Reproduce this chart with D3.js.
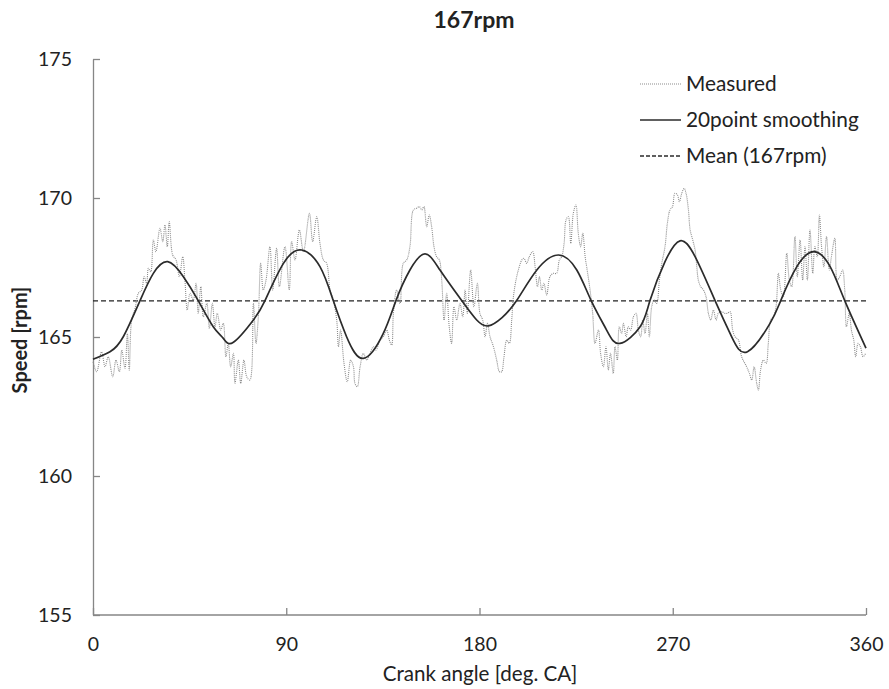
<!DOCTYPE html>
<html>
<head>
<meta charset="utf-8">
<script src="https://cdn.jsdelivr.net/npm/d3@7"></script>
<style>
  body { margin: 0; background: #fff; }
  text { font-family: Lato, "Open Sans", sans-serif; fill: #222; }
</style>
</head>
<body>
<div id="chart"></div>
<script>
// measured speed (peaks / troughs)
var measAngle = [0, 1.7, 4.0, 5.6, 7.1, 9.2, 10.7, 12.3, 13.4, 14.9, 16.0, 16.9, 18.0, 19.6, 21.1, 22.7, 23.8, 25.0, 25.8, 26.9,
  28.1, 29.3, 31.2, 32.5, 33.5, 34.6, 35.5, 37.1, 38.7, 40.2, 41.8, 42.8, 43.9, 45.2, 46.7, 48.0, 49.0, 50.2, 51.4, 53.0,
  54.2, 55.6, 56.8, 57.9, 59.5, 60.7, 61.9, 63.0, 64.1, 65.4, 66.1, 67.7, 68.8, 70.3, 71.6, 73.1, 74.7, 75.9, 77.0, 78.1,
  79.3, 80.6, 82.4, 83.7, 85.5, 86.8, 89.4, 91.4, 92.5, 94.1, 96.1, 98.0, 100.8, 102.3, 104.2, 105.7, 107.3, 108.8, 110.4, 111.9,
  113.5, 114.3, 115.3, 116.9, 118.4, 120.0, 121.3, 122.0, 123.1, 124.4, 125.9, 127.5, 129.0, 130.6, 131.8, 133.7, 135.2, 136.8, 138.0, 139.1,
  139.9, 141.4, 143.0, 144.5, 146.1, 147.6, 149.2, 150.7, 152.0, 153.1, 154.1, 155.4, 156.6, 157.7, 158.8, 160.0, 161.3, 162.4, 163.5, 164.7,
  165.9, 167.0, 168.1, 169.4, 170.9, 172.2, 173.3, 174.3, 175.9, 177.4, 179.0, 180.2, 181.5, 182.6, 183.7, 184.9, 186.5, 188.0, 189.3, 190.3,
  191.4, 192.7, 193.9, 195.0, 195.8, 197.0, 198.1, 199.7, 200.7, 202.0, 203.2, 204.8, 205.9, 207.0, 207.9, 209.0, 210.0, 211.3, 212.8, 214.4,
  215.9, 217.2, 218.3, 219.4, 220.3, 221.4, 222.5, 223.7, 224.9, 226.0, 227.1, 228.1, 229.2, 229.9, 231.5, 232.7, 233.8, 235.4, 236.4, 237.7,
  238.9, 240.0, 241.0, 242.3, 243.1, 244.2, 245.1, 246.2, 247.0, 248.3, 249.3, 250.4, 251.7, 252.9, 254.0, 255.1, 256.0, 257.1, 258.2, 259.1,
  260.2, 261.3, 262.5, 263.8, 264.9, 266.4, 267.5, 268.7, 269.9, 271.0, 272.2, 273.1, 274.2, 275.3, 276.2, 277.3, 278.1, 279.3, 280.4, 281.2,
  281.9, 283.0, 284.3, 285.5, 286.6, 287.7, 288.9, 290.2, 291.2, 292.8, 294.3, 295.4, 296.7, 297.9, 299.0, 300.6, 302.1, 304.4, 305.7, 306.8,
  307.9, 309.1, 309.9, 310.9, 312.2, 313.5, 314.5, 315.6, 316.9, 318.1, 319.2, 320.3, 321.5, 323.1, 324.3, 325.4, 326.9, 328.0, 329.3, 330.5,
  331.6, 332.7, 333.9, 335.2, 336.2, 337.3, 338.3, 339.3, 340.4, 341.6, 342.9, 343.9, 345.5, 346.6, 347.8, 349.1, 350.1, 350.9, 352.2, 353.2,
  354.3, 355.2, 356.3, 357.4, 358.6, 359.8];
var measSpeed = [164.11, 163.75, 164.47, 163.93, 164.29, 163.57, 164.17, 163.75, 164.53, 163.87, 165.13, 163.81, 165.61, 166.03, 166.57, 166.69, 167.17, 166.93, 167.47, 167.35,
  168.49, 168.07, 168.91, 168.43, 169.03, 168.25, 169.15, 167.95, 167.77, 167.17, 167.89, 167.05, 165.97, 166.57, 166.33, 166.93, 165.85, 166.81, 165.73, 166.21,
  165.31, 166.21, 165.37, 165.85, 165.25, 165.49, 164.29, 164.77, 163.93, 164.41, 163.33, 164.17, 163.33, 164.17, 163.57, 163.45, 166.21, 164.77, 165.73, 167.65,
  166.69, 167.05, 168.25, 166.69, 168.19, 166.81, 168.25, 166.69, 168.43, 167.77, 168.85, 168.07, 169.45, 168.43, 169.33, 168.37, 167.77, 167.65, 166.69, 166.33,
  165.61, 164.65, 165.25, 164.05, 163.39, 164.17, 163.93, 163.33, 163.21, 163.93, 164.41, 164.17, 164.41, 164.65, 164.53, 164.89, 165.01, 165.25, 164.89, 164.71,
  165.85, 166.69, 166.21, 167.65, 167.77, 168.25, 169.57, 169.63, 169.69, 169.57, 169.69, 168.97, 169.39, 168.97, 168.25, 167.89, 167.77, 167.05, 165.61, 166.57,
  165.37, 164.77, 166.09, 165.61, 166.21, 165.73, 166.69, 165.85, 167.41, 166.09, 166.93, 165.85, 165.61, 165.01, 165.49, 165.01, 164.65, 164.17, 163.75, 163.75,
  164.29, 164.89, 164.77, 165.61, 166.45, 167.05, 167.41, 167.77, 167.83, 167.65, 167.89, 168.07, 167.53, 166.81, 167.17, 166.69, 166.93, 166.51, 167.17, 167.29,
  167.29, 167.77, 167.89, 168.37, 169.21, 169.33, 168.37, 169.45, 169.75, 168.73, 168.25, 168.73, 167.89, 167.53, 166.69, 165.85, 164.77, 165.25, 164.41, 163.93,
  164.65, 163.81, 164.41, 163.69, 164.65, 164.17, 165.37, 165.13, 165.49, 165.01, 165.37, 165.25, 165.73, 165.85, 165.25, 165.01, 165.61, 165.13, 165.85, 165.01,
  166.09, 166.33, 166.21, 167.05, 167.65, 168.25, 169.09, 169.57, 169.69, 170.17, 170.11, 169.87, 170.17, 170.35, 170.17, 169.57, 168.85, 168.49, 168.13, 167.53,
  167.05, 166.81, 166.69, 166.45, 165.85, 165.61, 165.97, 165.61, 165.85, 165.91, 165.85, 165.85, 165.91, 165.25, 165.01, 164.89, 164.29, 163.93, 163.69, 163.45,
  163.93, 163.33, 163.09, 163.81, 164.17, 164.05, 164.77, 165.61, 165.73, 166.09, 167.29, 166.69, 166.45, 168.01, 167.05, 166.81, 168.61, 167.17, 168.49, 167.05,
  168.25, 167.05, 168.85, 167.29, 168.25, 167.89, 169.39, 168.25, 167.53, 168.61, 167.41, 167.89, 168.55, 167.05, 167.17, 167.41, 166.69, 165.37, 165.85, 165.25,
  164.89, 164.29, 164.77, 164.65, 164.29, 164.41];

// 20 point smoothing
var smoothAngle = [0, 7.9, 14.1, 21.9, 28.1, 34.8, 42.1, 49.0, 56.0, 60.7, 65.4, 74.7, 80.1, 88.7, 97.2, 105.7, 111.9, 118.1,
  125.9, 135.2, 141.1, 147.6, 154.6, 161.6, 171.7, 178.7, 184.1, 190.5, 197.3, 206.7, 216.8, 225.3, 232.0, 239.2,
  245.4, 254.8, 259.4, 266.4, 273.4, 280.4, 289.7, 297.4, 304.8, 315.3, 320.3, 327.8, 335.9, 343.3, 350.1, 360];
var smoothSpeed = [164.2, 164.47, 165.01, 166.31, 167.29, 167.71, 167.17, 166.31, 165.37, 164.95, 164.81, 165.61, 166.31, 167.65, 168.13, 167.53, 166.31, 165.01,
  164.23, 165.13, 166.31, 167.41, 167.99, 167.41, 166.31, 165.61, 165.4, 165.7, 166.31, 167.41, 167.95, 167.41, 166.31, 165.25,
  164.77, 165.37, 166.31, 167.71, 168.46, 167.89, 166.31, 165.01, 164.47, 165.49, 166.31, 167.53, 168.07, 167.53, 166.31, 164.6];

var meanSpeed = 166.3;
var xTicks = [0, 90, 180, 270, 360];
var yTicks = [155, 160, 165, 170, 175];
var legendNames = ["Measured", "20point smoothing", "Mean (167rpm)"];

var W = 889, H = 689;
var margin = { top: 59, right: 23, bottom: 74, left: 93 };
var width = W - margin.left - margin.right, height = H - margin.top - margin.bottom;

var svg = d3.select("#chart").append("svg")
  .attr("width", W).attr("height", H);
var g = svg.append("g")
  .attr("transform", "translate(" + margin.left + "," + margin.top + ")");

var x = d3.scaleLinear().domain([0, 360]).range([0, width]);
var y = d3.scaleLinear().domain([155, 175]).range([height, 0]);

// axes, ticks pointing into the plot
var xAxis = g.append("g")
  .attr("transform", "translate(0," + height + ")")
  .call(d3.axisBottom(x).tickValues(xTicks).tickSizeInner(-7).tickSizeOuter(0).tickPadding(22));
var yAxis = g.append("g")
  .call(d3.axisLeft(y).tickValues(yTicks).tickSizeInner(-7).tickSizeOuter(0).tickPadding(21));

[xAxis, yAxis].forEach(function(a) {
  a.selectAll("path, line").attr("stroke", "#868686").attr("stroke-width", 1.3);
  a.selectAll("text").attr("font-size", 19.5).attr("fill", "#222")
    .attr("font-family", "Lato, sans-serif");
});
xAxis.select(".domain").attr("d", "M0,0H" + width);

// mean line
g.append("line")
  .attr("x1", x(0)).attr("x2", x(360))
  .attr("y1", y(meanSpeed)).attr("y2", y(meanSpeed))
  .attr("stroke", "#222").attr("stroke-width", 1.3)
  .attr("stroke-dasharray", "5,3");

// measured
var measData = measAngle.map(function(a, i) { return [a, measSpeed[i]]; });
g.append("path")
  .datum(measData)
  .attr("fill", "none")
  .attr("stroke", "#8c8c8c")
  .attr("stroke-width", 1.1)
  .attr("stroke-dasharray", "1,1")
  .attr("d", d3.line().x(function(d) { return x(d[0]); }).y(function(d) { return y(d[1]); })
    .curve(d3.curveCatmullRom));

// smoothing
var smoothData = smoothAngle.map(function(a, i) { return [a, smoothSpeed[i]]; });
g.append("path")
  .datum(smoothData)
  .attr("fill", "none")
  .attr("stroke", "#2b2b2b")
  .attr("stroke-width", 1.7)
  .attr("d", d3.line().x(function(d) { return x(d[0]); }).y(function(d) { return y(d[1]); })
    .curve(d3.curveNatural));

// legend
var legStyles = [
  { stroke: "#8c8c8c", width: 1.1, dash: "1,1" },
  { stroke: "#2b2b2b", width: 1.6, dash: null },
  { stroke: "#2b2b2b", width: 1.3, dash: "4,2" }
];
var leg = svg.append("g").attr("transform", "translate(640,84)");
legendNames.forEach(function(name, i) {
  var row = leg.append("g").attr("transform", "translate(0," + (i * 36) + ")");
  row.append("line")
    .attr("x1", 0).attr("x2", 41).attr("y1", 0).attr("y2", 0)
    .attr("stroke", legStyles[i].stroke)
    .attr("stroke-width", legStyles[i].width)
    .attr("stroke-dasharray", legStyles[i].dash);
  row.append("text")
    .attr("x", 46).attr("y", 0).attr("dy", "0.35em")
    .attr("font-size", 20.8)
    .text(name);
});

// title and axis labels
svg.append("text")
  .attr("x", 474).attr("y", 28)
  .attr("text-anchor", "middle")
  .attr("font-size", 23).attr("font-weight", "bold")
  .text("167rpm");

svg.append("text")
  .attr("transform", "translate(27," + 340 + ") rotate(-90)")
  .attr("text-anchor", "middle")
  .attr("font-size", 20).attr("font-weight", "bold")
  .text("Speed [rpm]");

svg.append("text")
  .attr("x", 480).attr("y", 681)
  .attr("text-anchor", "middle")
  .attr("font-size", 20.6)
  .attr("fill", "#333")
  .text("Crank angle [deg. CA]");
</script>
</body>
</html>
